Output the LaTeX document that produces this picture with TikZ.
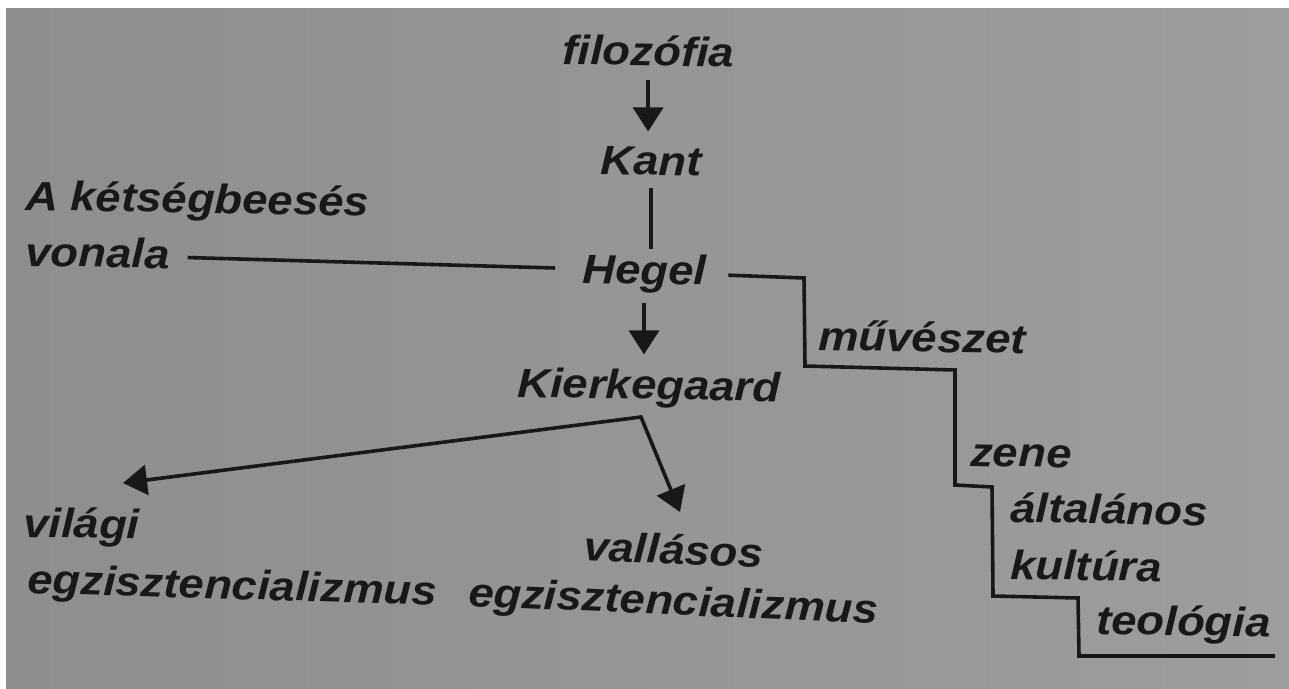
\documentclass[tikz,border=0pt]{standalone}
\usepackage{fontspec}
\newfontfamily\labfont[FakeStretch=1.11]{Liberation Sans}
\usetikzlibrary{arrows.meta}
\definecolor{paperL}{RGB}{142,142,142}
\definecolor{paperR}{RGB}{157,157,157}
\definecolor{ink}{RGB}{24,24,24}
\begin{document}
\begin{tikzpicture}[x=1pt,y=-1pt,
  lbl/.style={font=\labfont\bfseries\itshape\fontsize{41}{48}\selectfont, text=ink,
              inner sep=0pt, anchor=base west, rotate=#1},
  lbl/.default=-1,
  ln/.style={draw=ink, line width=3.6pt, line join=miter},
  tip/.tip={Triangle[length=24pt,width=30pt]},
  arr/.style={ln, -tip},
]
\useasboundingbox (0,0) rectangle (1289,688);
\fill[white] (0,0) rectangle (1289,688);
\shade[left color=paperL, right color=paperR] (6,8) rectangle (1289,688);

% labels
\node[lbl] (filo)   at (562,64)  {filozófia};
\node[lbl] (kant)   at (600,174) {Kant};
\node[lbl] (hegel)  at (582,283) {Hegel};
\node[lbl] (kierk)  at (517,397) {Kierkegaard};
\node[lbl] (ketA)   at (25,210)  {A kétségbeesés};
\node[lbl] (vonala) at (25,266)  {vonala};
\node[lbl] (muv)    at (818,350) {művészet};
\node[lbl] (zene)   at (970,466) {zene};
\node[lbl] (alt)    at (1010,522) {általános};
\node[lbl] (kult)   at (1010,579) {kultúra};
\node[lbl] (teol)   at (1096,634) {teológia};
\node[lbl] (vilagi) at (23,537)  {világi};
\node[lbl=-1.7] (egzL) at (27,593) {egzisztencializmus};
\node[lbl=-2.5] (vallasos) at (583,560) {vallásos};
\node[lbl=-2.5] (egzR) at (468,606) {egzisztencializmus};

% vertical chain
\draw[arr, shorten <=14pt, shorten >=15pt] (filo.south) -- (filo.south |- kant.north);
\draw[ln, shorten <=13pt, shorten >=5pt] (kant.south) -- (kant.south |- hegel.north);
\draw[arr, shorten <=10pt, shorten >=15pt] (hegel.south) -- (hegel.south |- kierk.north);

% line of despair
\draw[ln] ([xshift=18pt,yshift=11pt]vonala.base east) -- ([xshift=-27pt,yshift=15pt]hegel.base west);

% staircase
\coordinate (s1) at (804,278);
\coordinate (s2) at (805,366);
\coordinate (s3) at (955,370);
\coordinate (s4) at (955,485);
\coordinate (s5) at (992,487);
\coordinate (s6) at (993,596);
\coordinate (s7) at (1078,598);
\coordinate (s8) at (1079,656);
\coordinate (send) at (1275,656);
\draw[ln] ([xshift=22pt,yshift=10pt]hegel.base east) -- (s1) -- (s2) -- (s3) -- (s4)
  -- (s5) -- (s6) -- (s7) -- (s8) -- (send);

% split
\coordinate (split) at ([xshift=124pt,yshift=-20pt]kierk.base west);
\draw[ln, tip-tip] ([xshift=100pt,yshift=54pt]vilagi.base west) -- (split)
  -- ([xshift=97pt,yshift=48pt]vallasos.base west);
\end{tikzpicture}
\end{document}
